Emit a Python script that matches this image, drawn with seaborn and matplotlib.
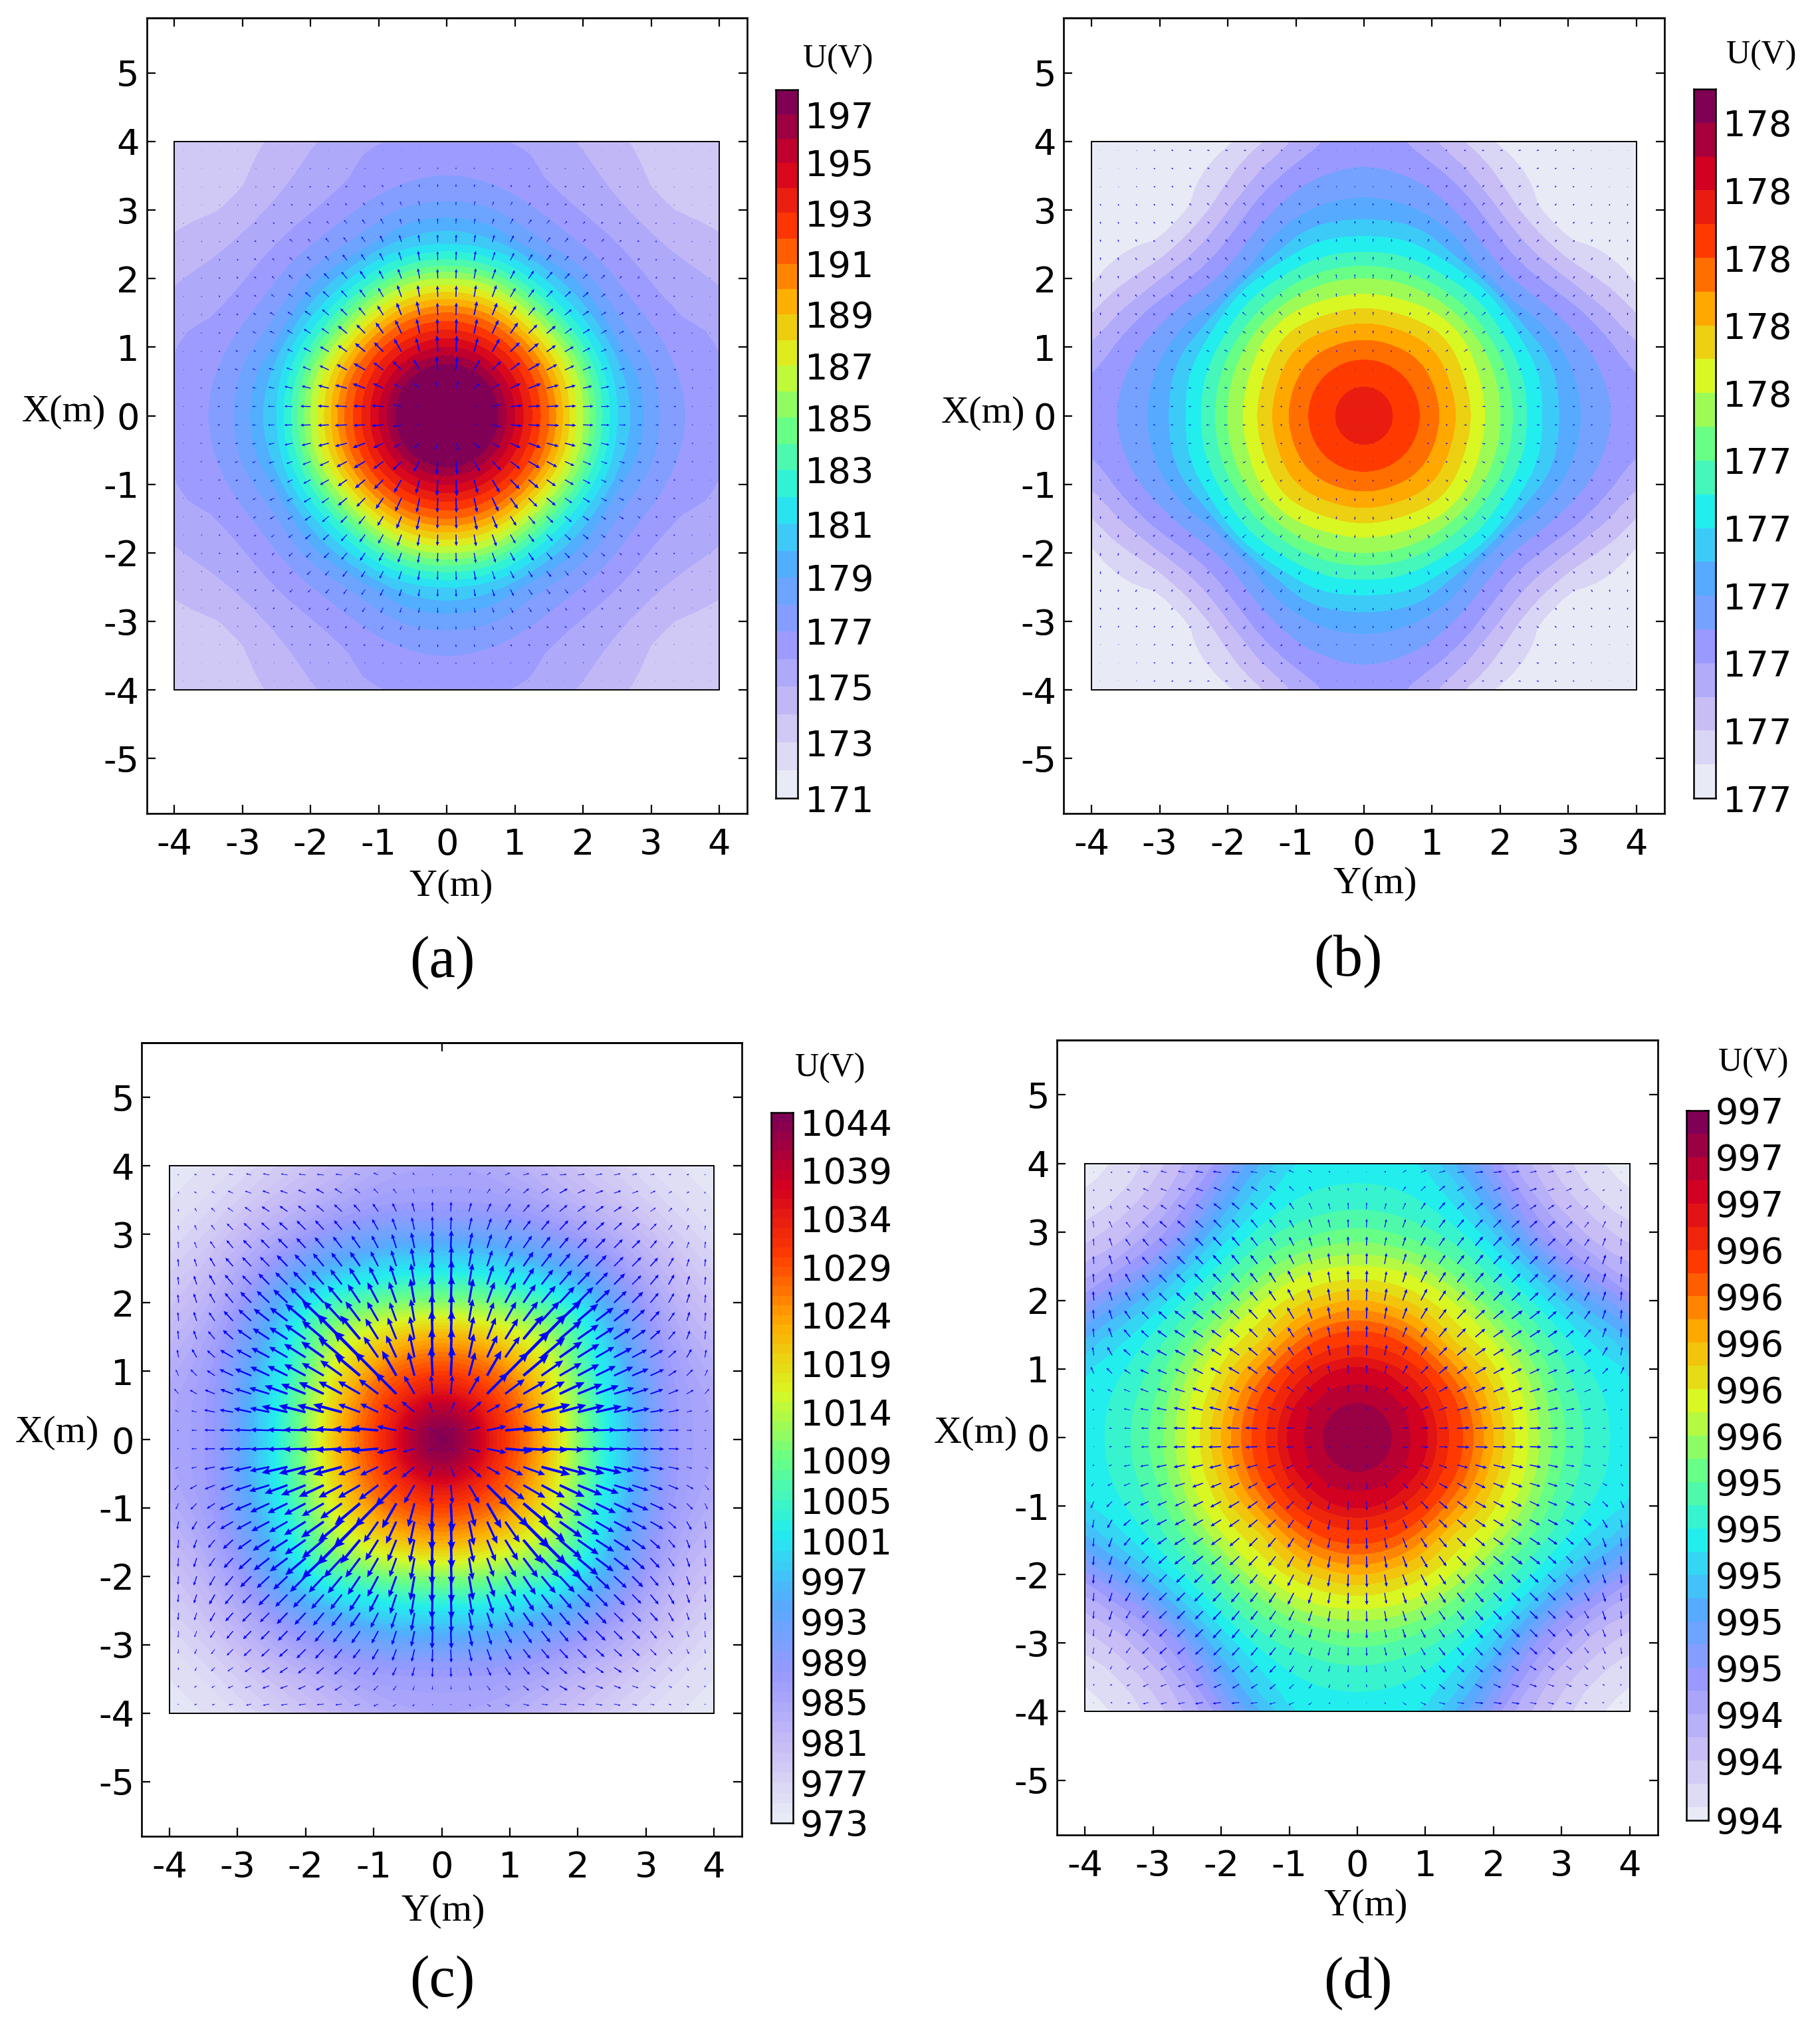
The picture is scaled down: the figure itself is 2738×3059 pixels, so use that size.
"""Four potential maps with field arrows and band colour bars."""

import numpy as np
import matplotlib
matplotlib.use("Agg")
import matplotlib.pyplot as plt
from matplotlib.patches import Rectangle
import seaborn as sns

sns.set_theme(style="white", rc={"axes.edgecolor": "black", "text.color": "black", "axes.linewidth": 1.9})
plt.rcParams["font.family"] = "DejaVu Sans"
plt.rcParams["axes.unicode_minus"] = False

WIDTH, HEIGHT = 2738, 3059

# colour bar anchors, bottom to top
anchors = ["#e8ebf5", "#c8bcf5", "#9999ff", "#55aaff", "#22eeee", "#66ff88",
           "#d9f722", "#ffaa00", "#ff3a00", "#d40020", "#800055"]

# radii (m) and spoke angles (deg, folded on the diagonal) where the map was read
radii = [0, 0.25, 0.5, 0.75, 1, 1.25, 1.5, 1.75, 2, 2.25, 2.5, 2.75, 3, 3.25, 3.5, 3.75, 4, 4.5, 5, 5.75]
spokes = [0, 15, 30, 45]

# map values in colour band units (0 = bottom of the bar)
bands_a = [
    [26.9, 26.9, 26.8, 26, 24, 22, 20, 17.5, 15, 12.3, 10, 8.7, 7.4, 6.6, 6, 5.5, 5.3, 4.5, 4, 3],
    [26.9, 26.9, 26.8, 26, 24, 22, 20, 17.5, 15, 12.2, 10, 8.3, 7.2, 6.4, 5.7, 5.3, 5.1, 4.3, 3.6, 3],
    [26.9, 26.9, 26.8, 26, 24, 22, 19.9, 17.2, 14.5, 11.8, 9.7, 7.7, 6.6, 5.9, 5.2, 4.7, 4.4, 3.6, 2.9, 2.4],
    [26.9, 26.9, 26.8, 26, 24, 22, 19.8, 17, 14.2, 11.5, 9.5, 7.9, 6.6, 5.8, 5.1, 4.5, 4, 2.95, 2.6, 2.4],
]
bands_b = [
    [17.6, 17.4, 16.8, 16.2, 15.4, 14.4, 13.3, 12.1, 11, 9.6, 8.5, 7.4, 6.5, 5.8, 5.2, 4.8, 4.6, 4, 3, 2],
    [17.6, 17.4, 16.8, 16.2, 15.4, 14.4, 13.3, 12.1, 11, 9.6, 8.5, 7.4, 6.3, 5.5, 4.9, 4.2, 3.4, 2, 1, 0.5],
    [17.6, 17.4, 16.8, 16.2, 15.4, 14.5, 13.4, 12.3, 11, 9.5, 8.3, 6.5, 5.5, 4.6, 3.7, 2.7, 1.9, 0.6, 0.2, 0.1],
    [17.6, 17.4, 16.8, 16.2, 15.4, 14.6, 13.5, 12.5, 11, 9.5, 8.4, 5.8, 4.8, 3.8, 2.8, 1.8, 0.8, 0.3, 0.2, 0.1],
]
bands_c = [
    [71.5, 69.5, 66, 61, 57, 53.5, 49.5, 44, 38, 33, 28, 24, 19.5, 16, 13.8, 12.8, 12, 11, 10, 9],
    [71.5, 69.5, 66, 61, 57, 53.5, 49.5, 44.5, 39, 34, 29, 25, 20.5, 17, 14.2, 12.5, 11, 8.5, 7, 5],
    [71.5, 69.5, 66, 61, 57, 53.8, 49.8, 45.5, 41, 36, 31, 27, 22, 18.5, 15, 12, 9.5, 6, 3.5, 1.5],
    [71.5, 69.5, 66, 61, 57, 54, 50, 46, 42, 38, 34, 29, 24.5, 20, 16, 12.5, 10, 5.5, 2.8, 0.8],
]
bands_d = [
    [29.9, 29.6, 29, 28.1, 27.2, 25.4, 24.3, 22.7, 21, 19.3, 18, 16.5, 15.2, 14.2, 13.5, 12.9, 12.6, 12, 11.5, 11],
    [29.9, 29.6, 29, 28.1, 27.2, 25.4, 24.3, 22.6, 20.8, 19.2, 18, 16.4, 15, 14, 13.2, 12.5, 12, 10, 8, 6],
    [29.9, 29.6, 29, 28.2, 27.1, 25.5, 24.1, 22.3, 20.5, 19, 17.7, 16, 14.6, 13.4, 12, 10.5, 8.8, 5.5, 3.5, 1.5],
    [29.9, 29.6, 29, 28.2, 27, 25.6, 24, 22, 20, 18.8, 17.5, 15.6, 14.2, 12.8, 11, 8.8, 6.6, 3.8, 1.9, 0.1],
]

# arrow direction from the horizontal (deg), upper left quarter, edge towards centre
arrow_angle = [
    [45, 20, 20, 15, 15, 12, 10, 8, 6, 8, 15, 25, 35, 50, 85],
    [80, 35, 30, 25, 20, 20, 20, 25, 30, 33, 40, 45, 55, 70, 85],
    [80, 60, 45, 35, 35, 33, 35, 37, 40, 42, 48, 55, 65, 75, 88],
    [82, 65, 52, 45, 42, 42, 42, 45, 47, 50, 52, 60, 70, 77, 88],
    [85, 70, 55, 50, 45, 45, 45, 47, 50, 52, 55, 62, 72, 78, 88],
    [85, 72, 60, 48, 45, 45, 46, 47, 50, 52, 55, 63, 72, 80, 88],
    [85, 72, 60, 50, 45, 45, 45, 46, 49, 52, 57, 63, 72, 80, 88],
    [85, 72, 60, 50, 45, 43, 43, 45, 47, 50, 56, 62, 70, 80, 88],
    [85, 72, 55, 47, 42, 38, 37, 40, 43, 47, 53, 60, 70, 80, 88],
    [85, 70, 50, 42, 35, 33, 33, 35, 40, 45, 50, 58, 68, 78, 88],
    [80, 60, 42, 30, 28, 28, 30, 32, 35, 40, 45, 55, 65, 78, 88],
    [65, 45, 33, 25, 23, 25, 26, 28, 30, 35, 40, 45, 60, 75, 87],
    [50, 30, 22, 20, 18, 17, 20, 22, 25, 28, 30, 37, 45, 60, 85],
    [30, 15, 12, 10, 12, 12, 13, 14, 15, 15, 20, 25, 30, 40, 70],
    [0, 2, 2, 2, 2, 2, 2, 2, 3, 3, 3, 5, 12, 15, 30],
]

# arrow lengths, same quarter, as measured on the zoomed picture
arrows_a = [
    [2, 2, 2, 2, 2, 2, 2, 2, 2, 2, 2, 2, 2, 2, 2],
    [2, 2, 2, 2, 3, 3, 3, 4, 4, 4, 4, 4, 4, 5, 5],
    [2, 2, 3, 3, 4, 5, 5, 6, 7, 7, 8, 9, 9, 10, 10],
    [2, 2, 3, 4, 5, 6, 7, 8, 9, 10, 12, 14, 14, 15, 12],
    [3, 3, 4, 5, 6, 7, 9, 10, 12, 16, 18, 20, 18, 18, 18],
    [3, 4, 4, 6, 8, 10, 14, 14, 18, 20, 22, 25, 25, 25, 25],
    [3, 4, 5, 6, 10, 10, 14, 18, 20, 25, 25, 28, 30, 32, 30],
    [3, 4, 6, 8, 10, 12, 18, 22, 25, 30, 32, 32, 35, 35, 32],
    [3, 4, 6, 8, 10, 14, 18, 25, 28, 30, 32, 35, 42, 40, 38],
    [3, 4, 6, 8, 12, 18, 20, 25, 30, 32, 35, 38, 45, 48, 42],
    [3, 4, 6, 8, 14, 18, 22, 28, 30, 40, 42, 45, 50, 50, 50],
    [3, 4, 6, 10, 10, 15, 20, 28, 35, 38, 45, 45, 50, 48, 55],
    [3, 5, 8, 12, 14, 20, 22, 30, 35, 40, 45, 42, 42, 40, 45],
    [3, 5, 8, 10, 14, 20, 28, 32, 38, 42, 45, 38, 30, 25, 25],
    [3, 4, 8, 10, 14, 22, 28, 35, 38, 42, 40, 40, 30, 10, 3],
]
arrows_b = [
    [3, 3, 4, 8, 10, 12, 12, 12, 10, 10, 8, 6, 4, 3, 3],
    [3, 3, 5, 8, 10, 12, 12, 12, 10, 12, 10, 8, 6, 3, 3],
    [4, 4, 6, 8, 10, 12, 14, 14, 14, 14, 12, 10, 8, 6, 6],
    [8, 8, 8, 10, 12, 14, 16, 18, 18, 14, 14, 14, 10, 10, 10],
    [10, 10, 10, 12, 14, 14, 14, 16, 16, 16, 16, 16, 14, 12, 12],
    [12, 12, 14, 12, 14, 16, 16, 16, 16, 18, 16, 16, 14, 14, 16],
    [14, 14, 14, 14, 14, 16, 16, 18, 18, 18, 18, 18, 16, 16, 16],
    [14, 14, 14, 14, 14, 16, 18, 20, 20, 18, 18, 18, 18, 20, 20],
    [14, 14, 14, 14, 14, 16, 18, 20, 22, 18, 18, 18, 16, 16, 16],
    [12, 12, 12, 12, 14, 18, 18, 18, 22, 22, 22, 16, 14, 14, 16],
    [10, 10, 10, 12, 16, 16, 18, 18, 18, 20, 18, 14, 12, 12, 14],
    [6, 6, 10, 12, 14, 14, 16, 18, 18, 20, 14, 10, 8, 8, 10],
    [4, 4, 10, 10, 12, 14, 16, 18, 16, 14, 10, 8, 6, 4, 4],
    [4, 4, 8, 10, 12, 14, 16, 16, 16, 12, 10, 8, 5, 4, 4],
    [3, 4, 8, 10, 12, 14, 16, 18, 16, 14, 10, 8, 4, 3, 3],
]
arrows_c = [
    [6, 12, 14, 20, 24, 30, 30, 32, 32, 30, 28, 24, 20, 14, 6],
    [8, 14, 18, 26, 30, 34, 36, 38, 42, 40, 34, 30, 26, 22, 18],
    [12, 18, 24, 30, 36, 42, 44, 44, 46, 48, 44, 44, 42, 42, 44],
    [20, 24, 28, 40, 46, 50, 52, 58, 58, 56, 54, 56, 56, 58, 60],
    [30, 30, 38, 46, 52, 56, 62, 62, 64, 66, 68, 64, 66, 72, 80],
    [34, 36, 46, 52, 58, 60, 70, 74, 76, 78, 80, 76, 76, 84, 90],
    [36, 42, 52, 58, 58, 70, 78, 82, 86, 86, 90, 90, 92, 96, 110],
    [38, 44, 50, 58, 70, 78, 88, 100, 100, 100, 100, 104, 100, 110, 120],
    [40, 44, 48, 62, 78, 90, 100, 120, 135, 120, 110, 100, 90, 100, 120],
    [40, 42, 48, 62, 76, 90, 98, 115, 130, 160, 140, 110, 105, 105, 130],
    [36, 44, 48, 68, 76, 92, 96, 115, 125, 140, 170, 115, 110, 110, 130],
    [30, 40, 44, 68, 80, 95, 100, 110, 115, 120, 150, 150, 130, 110, 130],
    [30, 36, 50, 62, 78, 95, 110, 120, 125, 120, 115, 110, 135, 95, 85],
    [18, 26, 50, 62, 80, 90, 120, 125, 125, 135, 105, 90, 70, 75, 50],
    [8, 24, 48, 62, 75, 85, 90, 100, 110, 120, 125, 125, 90, 55, 20],
]
arrows_d = [
    [4, 8, 14, 26, 28, 32, 36, 38, 36, 32, 30, 26, 20, 10, 4],
    [8, 12, 18, 28, 30, 34, 36, 38, 38, 36, 36, 30, 24, 18, 14],
    [14, 18, 24, 30, 34, 36, 40, 44, 46, 44, 42, 36, 32, 28, 30],
    [30, 32, 32, 40, 44, 46, 48, 50, 50, 48, 46, 40, 40, 38, 38],
    [32, 38, 38, 42, 48, 50, 52, 56, 54, 50, 46, 45, 42, 40, 42],
    [36, 44, 40, 44, 50, 52, 52, 56, 56, 52, 50, 50, 50, 50, 50],
    [40, 44, 46, 46, 50, 54, 56, 56, 58, 55, 56, 60, 52, 50, 54],
    [42, 44, 46, 46, 50, 54, 56, 62, 58, 55, 56, 60, 55, 56, 58],
    [42, 44, 46, 46, 52, 60, 62, 60, 60, 60, 56, 60, 55, 55, 55],
    [40, 46, 46, 46, 52, 58, 56, 56, 58, 56, 56, 52, 50, 48, 52],
    [38, 44, 42, 42, 52, 52, 54, 56, 58, 56, 52, 48, 46, 48, 50],
    [34, 36, 34, 42, 46, 50, 52, 56, 58, 56, 52, 48, 44, 38, 40],
    [18, 24, 32, 40, 46, 50, 52, 52, 52, 50, 46, 40, 35, 24, 30],
    [8, 16, 30, 38, 48, 52, 54, 56, 54, 50, 40, 38, 30, 18, 14],
    [4, 14, 28, 34, 46, 52, 54, 58, 58, 56, 40, 35, 25, 10, 8],
]

tick_values = [-5, -4, -3, -2, -1, 0, 1, 2, 3, 4, 5]

# colour bar labels, and the band edge (counted from the top) each one sits on
labels_a = ["197", "195", "193", "191", "189", "187", "185", "183", "181", "179", "177", "175", "173", "171"]
label_edge_a = [1, 3, 5, 7, 9, 11, 13, 15, 17, 19, 21, 23, 25, 27]
labels_b = ["178", "178", "178", "178", "178", "177", "177", "177", "177", "177", "177"]
label_edge_b = [1, 3, 5, 7, 9, 11, 13, 15, 17, 19, 21]
labels_c = ["1044", "1039", "1034", "1029", "1024", "1019", "1014", "1009", "1005", "1001",
            "997", "993", "989", "985", "981", "977", "973"]
label_edge_c = [1, 6, 11, 16, 21, 26, 31, 36, 40, 44, 48, 52, 56, 60, 64, 68, 72]
labels_d = ["997", "997", "997", "996", "996", "996", "996", "996",
            "995", "995", "995", "995", "995", "994", "994", "994"]
label_edge_d = [0, 2, 4, 6, 8, 10, 12, 14, 16, 18, 20, 22, 24, 26, 28, 31]

# measured y of band edges on the bars (edge number, full size pixel)
knot_edge_a = [0, 1, 3, 5, 7, 9, 11, 13, 15, 17, 19, 21, 23, 25, 27]
knot_y_a = [135, 172, 245, 320, 397, 473, 550, 628, 707, 788, 869, 950, 1033, 1117, 1201]
knot_edge_b = [0, 21]
knot_y_b = [134, 1201]
knot_edge_c = [0, 1, 36, 72]
knot_y_c = [1674, 1688, 2197, 2743]
knot_edge_d = [0, 30, 31]
knot_y_d = [1671, 2719, 2739]


def px_rect(left, top, right, bottom):
    """Turn reference pixel edges into a figure rectangle."""
    return [left / WIDTH, 1 - bottom / HEIGHT, (right - left) / WIDTH, (bottom - top) / HEIGHT]


def fig_text(fig, x, y, text, size):
    fig.text(x / WIDTH, 1 - (y + 3) / HEIGHT, text, family="Liberation Serif", fontsize=size,
             ha="center", va="center", color="black")


def mirror(quarter):
    top = np.hstack([quarter, quarter[:, ::-1]])
    return np.vstack([top, top[::-1]])


def fine_field(bands, n_bands):
    """Resample the read spokes onto a fine polar mesh so the contour curves stay round."""
    fine_r = np.arange(0, 5.76, 0.05)
    fine_deg = np.arange(0, 361, 3)
    table = np.array([np.interp(fine_r, radii, row) for row in bands])
    basis = np.cos(np.radians(np.outer(spokes, [0, 4, 8, 12])))
    coef = np.linalg.solve(basis, table)
    values = np.cos(np.radians(np.outer(fine_deg, [0, 4, 8, 12]))) @ coef
    rr, tt = np.meshgrid(fine_r, np.radians(fine_deg))
    return rr * np.cos(tt), rr * np.sin(tt), np.clip(values, 0.01, n_bands - 0.01)


def draw_map(ax, bands, palette):
    """Filled bands, clipped to the 8 m square."""
    xx, yy, values = fine_field(bands, len(palette))
    filled = ax.contourf(xx, yy, values, levels=np.arange(len(palette) + 1), colors=palette)
    filled.set_clip_path(Rectangle((-4, -4), 8, 8, transform=ax.transData))
    ax.add_patch(Rectangle((-4, -4), 8, 8, fill=False, edgecolor="black", linewidth=1.4, zorder=5))


def draw_arrows(ax, lengths, zoom_factor):
    """Arrow heads grow with length, so arrows are drawn in width classes."""
    centres = -4 + (np.arange(30) + 0.5) * 8 / 30
    xx, yy = np.meshgrid(centres, centres[::-1])
    length = mirror(np.asarray(lengths, dtype=float)) / zoom_factor / 102.7
    angle = np.radians(mirror(np.asarray(arrow_angle, dtype=float)))
    dx = length * np.cos(angle) * np.sign(xx)
    dy = length * np.sin(angle) * np.sign(yy)
    classes = np.round(length / 0.03)
    for group in np.unique(classes):
        keep = classes == group
        ax.quiver(xx[keep], yy[keep], dx[keep], dy[keep], angles="xy", scale_units="xy", scale=1,
                  units="xy", width=max(0.007, 0.03 * (group + 0.5) * 0.08), headwidth=3.3, headlength=3.7,
                  headaxislength=3.3, minlength=0, minshaft=1, color="#0000ff", pivot="tail", zorder=4)


def draw_colorbar(cax, palette, knot_edge, knot_y, labels, label_edge):
    n = len(palette)
    edges = np.interp(np.arange(n + 1), knot_edge, knot_y)
    for i in range(n):
        cax.axhspan(edges[i], edges[i + 1], color=palette[n - 1 - i], linewidth=0)
    cax.set_xlim(0, 1)
    cax.set_ylim(edges[-1], edges[0])
    cax.set_xticks([])
    cax.yaxis.tick_right()
    cax.set_yticks(edges[label_edge], labels)
    cax.set_yticks(edges[1:-1], minor=True)
    cax.tick_params(axis="y", which="both", left=True, right=True, direction="in", length=4.5, width=1.3,
                    color="black", labelsize=39, pad=8, labelcolor="black")
    for spine in cax.spines.values():
        spine.set_linewidth(1.8)


def draw_panel(fig, rect, bar_x, knot_edge, knot_y, bands, lengths, zoom_factor, labels, label_edge,
               xlabel_at, ylabel_at, unit_at, tag_at, tag, top_ticks):
    ax = fig.add_axes(px_rect(*rect))
    palette = sns.blend_palette(anchors, n_colors=knot_edge[-1])
    draw_map(ax, bands, palette)
    draw_arrows(ax, lengths, zoom_factor)
    ax.set_xlim(-4.41, 4.41)
    ax.set_ylim(-5.8, 5.8)
    ax.set_xticks(tick_values[1:-1])
    ax.set_yticks(tick_values)
    ax.tick_params(axis="both", bottom=True, left=True, right=True, direction="in", length=9.5,
                   width=1.6, color="black", labelsize=39, labelcolor="black")
    ax.tick_params(axis="x", pad=15)
    ax.tick_params(axis="y", pad=8)
    top = ax.secondary_xaxis("top")
    top.set_xticks(top_ticks, [""] * len(top_ticks))
    top.tick_params(axis="x", direction="in", length=9.5, width=1.6, color="black")
    cax = fig.add_axes(px_rect(bar_x, knot_y[0], bar_x + 33, knot_y[-1]))
    draw_colorbar(cax, palette, knot_edge, knot_y, labels, label_edge)
    fig_text(fig, *xlabel_at, "Y(m)", 42)
    fig_text(fig, *ylabel_at, "X(m)", 42)
    fig_text(fig, *unit_at, "U(V)", 36)
    fig_text(fig, *tag_at, tag, 64)


fig = plt.figure(figsize=(WIDTH / 100, HEIGHT / 100), dpi=100)
draw_panel(fig, (220.5, 27, 1124, 1224), 1167, knot_edge_a, knot_y_a, bands_a, arrows_a, 2.24,
           labels_a, label_edge_a, (679, 1331), (96, 617), (1261, 86), (665, 1446), "(a)", tick_values[1:-1])
draw_panel(fig, (1600, 27, 2504, 1224), 2548, knot_edge_b, knot_y_b, bands_b, arrows_b, 3,
           labels_b, label_edge_b, (2069, 1327), (1479, 619), (2650, 80), (2028, 1444), "(b)", tick_values[1:-1])
draw_panel(fig, (213, 1569, 1116, 2763), 1160, knot_edge_c, knot_y_c, bands_c, arrows_c, 3,
           labels_c, label_edge_c, (667, 2873), (86, 2153), (1249, 1604), (665, 2980), "(c)", [0])
draw_panel(fig, (1590, 1565, 2494, 2761), 2537, knot_edge_d, knot_y_d, bands_d, arrows_d, 3,
           labels_d, label_edge_d, (2055, 2865), (1468, 2154), (2638, 1596), (2043, 2982), "(d)", [])
fig.savefig("out.png", dpi=100)
